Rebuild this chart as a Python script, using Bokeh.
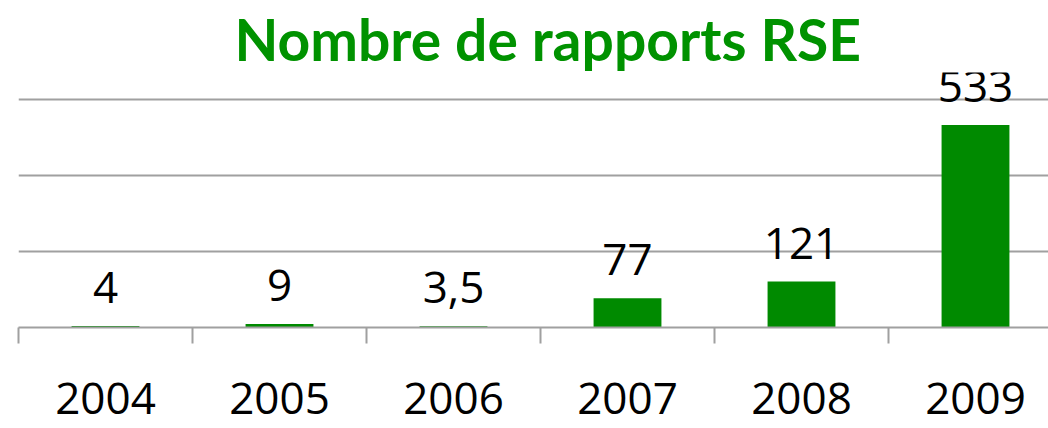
from bokeh.plotting import figure
from bokeh.models import Range1d, FixedTicker, ColumnDataSource, LabelSet
from bokeh.core.properties import value
from bokeh.embed import file_html
from bokeh.resources import INLINE

years = ["2004", "2005", "2006", "2007", "2008", "2009"]
counts = [4, 9, 3.5, 77, 121, 533]
count_labels = ["4", "9", "3,5", "77", "121", "533"]
grid_values = [200, 400, 600]

centers = [i + 0.5 for i in range(len(years))]
bounds = list(range(len(years) + 1))

src = ColumnDataSource(dict(x=centers, top=counts, label=count_labels))

p = figure(width=1048, height=428, output_backend="svg", toolbar_location=None,
           x_range=Range1d(0, 1030 / 174), y_range=Range1d(0, 255 / 0.38),
           min_border_left=18, min_border_right=0, min_border_bottom=101,
           min_border_top=72)
p.outline_line_color = None
p.background_fill_color = "white"
p.border_fill_color = "white"

p.title.text = "Nombre de rapports RSE"
p.title.text_font = "Lato"
p.title.text_font_style = "bold"
p.title.text_font_size = "57px"
p.title.text_color = "#009200"
p.title.align = "left"
p.title.offset = 216
p.title.standoff = 0

p.vbar(x="x", top="top", bottom=0, width=0.39, source=src,
       fill_color="#008A00", line_color=None)
labels = LabelSet(x="x", y="top", text="label", source=src, y_offset=23,
                  text_align="center", text_baseline="alphabetic",
                  text_font=value("Open Sans"), text_font_size=value("44px"),
                  text_color=value("black"))
p.add_layout(labels)

p.yaxis.visible = False
p.ygrid.ticker = FixedTicker(ticks=grid_values)
p.ygrid.grid_line_color = "#A0A0A0"
p.ygrid.grid_line_width = 2
p.xgrid.visible = False

ax = p.xaxis[0]
ax.ticker = FixedTicker(ticks=centers, minor_ticks=bounds)
ax.major_label_overrides = {c: y for c, y in zip(centers, years)}
ax.major_tick_out = 0
ax.major_tick_in = 0
ax.minor_tick_out = 16
ax.minor_tick_in = 0
ax.minor_tick_line_color = "#A0A0A0"
ax.minor_tick_line_width = 2
ax.axis_line_color = "#A0A0A0"
ax.axis_line_width = 2
ax.major_label_text_font = "Open Sans"
ax.major_label_text_font_size = "44px"
ax.major_label_text_color = "black"
ax.major_label_standoff = 39

open("out.html", "w").write(file_html(p, INLINE))
